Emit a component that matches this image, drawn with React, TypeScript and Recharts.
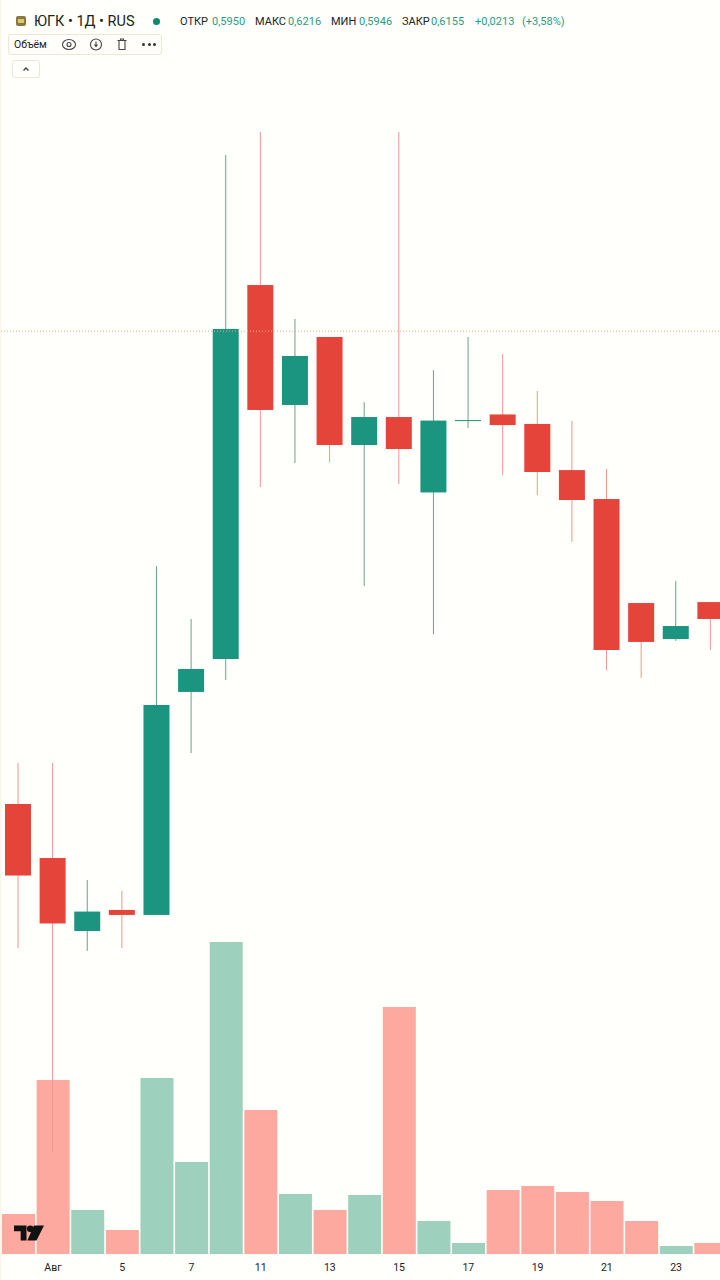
import { Bar, Cell, ComposedChart, ReferenceLine, XAxis, YAxis } from "recharts";

// 1D candles (prices in RUB)
const days = ["31", "Авг", "4", "5", "6", "7", "8", "11", "12", "13", "14", "15", "16", "17", "18", "19", "20", "21", "22", "23", "24"];
const tickDays = ["Авг", "5", "7", "11", "13", "15", "17", "19", "21", "23"];
const opens = [0.58599, 0.58263, 0.57809, 0.5794, 0.57909, 0.59296, 0.59501, 0.61827, 0.61081, 0.61504, 0.60832, 0.61006, 0.60537, 0.60981, 0.61022, 0.60963, 0.60676, 0.60496, 0.59849, 0.59625, 0.59855];
const highs = [0.58854, 0.58854, 0.58126, 0.58058, 0.60079, 0.5975, 0.62636, 0.62779, 0.61616, 0.61504, 0.61099, 0.62779, 0.61298, 0.61504, 0.61398, 0.61168, 0.60981, 0.60683, 0.59849, 0.59986, 0.59855];
const lows = [0.57703, 0.56434, 0.57685, 0.57703, 0.57909, 0.58916, 0.5937, 0.60571, 0.6072, 0.60726, 0.59955, 0.60589, 0.59656, 0.60938, 0.60645, 0.60521, 0.60229, 0.59432, 0.59383, 0.59613, 0.59557];
const closes = [0.58154, 0.57856, 0.5793, 0.57909, 0.59215, 0.59439, 0.61554, 0.6105, 0.61386, 0.60832, 0.61006, 0.60807, 0.60984, 0.60987, 0.60956, 0.60664, 0.6049, 0.59557, 0.59607, 0.59706, 0.5975];
const volumes = [40, 174, 44, 24, 176, 92, 312, 144, 60, 44, 59, 247, 33, 11, 64, 68, 62, 53, 33, 8, 11];
const lastPrice = 0.6154;

const UP = "#1b957f";
const DOWN = "#e5443b";
const UP_WICK = "#6fa08c";
const DOWN_WICK = "#f0978c";
const UP_VOL = "#9dd1bd";
const DOWN_VOL = "#fea99f";
const UP_TEXT = "#2c9c86";

const data = days.map((day, i) => ({
  day,
  open: opens[i],
  high: highs[i],
  low: lows[i],
  close: closes[i],
  volume: volumes[i],
}));

// Bar spans low..high, body gets placed inside it from the same px/price ratio
function Candle(props: any) {
  const { x, y, width, height, payload } = props;
  const { open, close, high, low } = payload;
  const up = close >= open;
  const perUnit = height / (high - low);
  const top = y + (high - Math.max(open, close)) * perUnit;
  const bodyH = Math.max(1, Math.abs(open - close) * perUnit);
  return (
    <g>
      <rect x={x + width / 2 - 0.5} y={y} width={1} height={height} fill={up ? UP_WICK : DOWN_WICK} />
      <rect x={x} y={top} width={width} height={bodyH} fill={up ? UP : DOWN} />
    </g>
  );
}

// OHLC strip: [text, left px, is value]
const ohlcRow: [string, number, boolean][] = [
  ["ОТКР", 180, false],
  ["0,5950", 212, true],
  ["МАКС", 255, false],
  ["0,6216", 288, true],
  ["МИН", 331, false],
  ["0,5946", 359, true],
  ["ЗАКР", 402, false],
  ["0,6155", 431, true],
  ["+0,0213", 475, true],
  ["(+3,58%)", 522, true],
];

function Legend() {
  return (
    <div style={{ position: "absolute", left: 0, top: 0, width: 720, fontFamily: "Roboto, sans-serif" }}>
      <svg width={10} height={10} style={{ position: "absolute", left: 16, top: 16 }}>
        <rect width={10} height={10} rx={2} fill="#8a7a3a" />
        <rect x={2} y={3} width={6} height={4} fill="#d8c878" />
      </svg>
      <div style={{ position: "absolute", left: 34, top: 13, fontSize: 14.5, color: "#222", whiteSpace: "nowrap" }}>ЮГК • 1Д • RUS</div>
      <div style={{ position: "absolute", left: 153, top: 18, width: 7, height: 7, borderRadius: 4, background: "#0b8a6e" }} />
      {ohlcRow.map(([text, left, isValue]) => (
        <span key={text} style={{ position: "absolute", left, top: 15, fontSize: 11, whiteSpace: "nowrap", color: isValue ? UP_TEXT : "#222" }}>
          {text}
        </span>
      ))}
      <div style={{ position: "absolute", left: 8, top: 34, width: 154, height: 21, border: "1px solid #f1e6d2", borderRadius: 3, boxSizing: "border-box", background: "#fffefb" }}>
        <div style={{ position: "absolute", left: 5, top: 3, fontSize: 10.5, color: "#222" }}>Объём</div>
        <svg width={154} height={19} style={{ position: "absolute", left: 0, top: 0 }} fill="none" stroke="#444" strokeWidth={1.1}>
          <ellipse cx={60} cy={9.5} rx={6.5} ry={5} />
          <circle cx={60} cy={9.5} r={2} />
          <circle cx={87} cy={9.5} r={5.5} />
          <path d="M87 6.5v4M85.5 9.5l1.5 2 1.5-2" />
          <path d="M108.5 5.5h9M110 5.5v9h6v-9M111.5 5.5v-1.5h3v1.5" />
        </svg>
        <div style={{ position: "absolute", left: 133, top: 8, display: "flex", gap: 2.5 }}>
          {[0, 1, 2].map((i) => (
            <span key={i} style={{ width: 3, height: 3, borderRadius: 2, background: "#333" }} />
          ))}
        </div>
      </div>
      <div style={{ position: "absolute", left: 12, top: 60, width: 28, height: 18, border: "1px solid #f1e6d2", borderRadius: 3, boxSizing: "border-box" }}>
        <svg width={26} height={16} fill="none" stroke="#444" strokeWidth={1.4}>
          <path d="M10.5 9.5l2.5-2.5 2.5 2.5" />
        </svg>
      </div>
    </div>
  );
}

export default function App() {
  return (
    <div style={{ position: "relative", width: 720, height: 1280, overflow: "hidden", background: "#fffffb", boxShadow: "inset 2px 0 2px -1px #fdf3e2" }}>
      <style>{"body{margin:0}"}</style>
      {/* wider than the page so the last candle gets cut off at the right edge */}
      <ComposedChart width={728} height={1280} data={data} barCategoryGap={1} margin={{ top: 0, right: 0, bottom: 0, left: 1 }}>
        <XAxis
          dataKey="day"
          ticks={tickDays}
          interval={0}
          axisLine={false}
          tickLine={false}
          height={26}
          tick={{ fontSize: 10.5, fill: "#222", fontFamily: "Roboto, sans-serif", dy: 2 }}
        />
        <XAxis xAxisId="price" dataKey="day" hide />
        <YAxis yAxisId="vol" domain={[0, 1254]} hide />
        <YAxis yAxisId="price" domain={[0.558, 0.636]} hide />
        <Bar yAxisId="vol" dataKey="volume" isAnimationActive={false}>
          {data.map((d, i) => (
            <Cell key={i} fill={d.close >= d.open ? UP_VOL : DOWN_VOL} />
          ))}
        </Bar>
        <ReferenceLine xAxisId="price" yAxisId="price" y={lastPrice} stroke="#dcb27e" strokeWidth={1} strokeDasharray="1 2" />
        <Bar
          xAxisId="price"
          yAxisId="price"
          dataKey={(d: any) => [d.low, d.high]}
          barSize={26}
          shape={Candle}
          isAnimationActive={false}
        />
      </ComposedChart>
      <svg width={30} height={18} style={{ position: "absolute", left: 14, top: 1224 }} viewBox="0 0 36 20">
        <path d="M0 1h15v18H8V8H0zM24 1h12l-9 18H16z" fill="#111" />
        <circle cx={19.5} cy={5} r={4} fill="#111" />
      </svg>
      <Legend />
    </div>
  );
}
